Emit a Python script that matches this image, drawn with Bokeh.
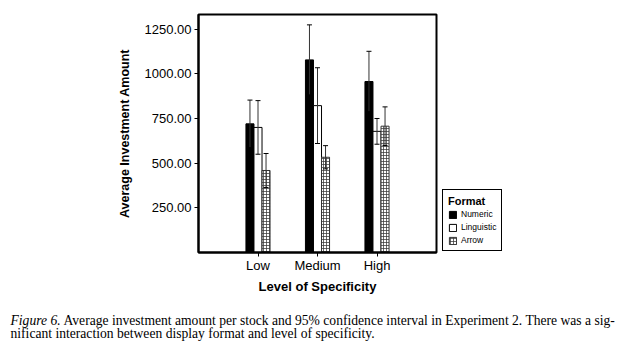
from bokeh.plotting import figure
from bokeh.models import (ColumnDataSource, FixedTicker, NumeralTickFormatter, BoxAnnotation,
                          Legend, LegendItem, Label, Range1d)
from bokeh.transform import dodge
from bokeh.embed import file_html
from bokeh.resources import INLINE

categories = ["Low", "Medium", "High"]
numeric = [720, 1078, 957]
numeric_ci = [133, 196, 169]
linguistic = [700, 822, 678]
linguistic_ci = [150, 212, 72]
arrow = [459, 533, 707]
arrow_ci = [95, 65, 108]
y_ticks = [250, 500, 750, 1000, 1250]
caption_italic = "Figure 6."
caption_line1 = "Average investment amount per stock and 95% confidence interval in Experiment 2. There was a sig-"
caption_line2 = "nificant interaction between display format and level of specificity."

positions = [i + 1 for i in range(len(categories))]
src = ColumnDataSource(dict(
    pos=positions,
    numeric=numeric, num_lo=[m - e for m, e in zip(numeric, numeric_ci)],
    num_hi=[m + e for m, e in zip(numeric, numeric_ci)],
    linguistic=linguistic, lin_lo=[m - e for m, e in zip(linguistic, linguistic_ci)],
    lin_hi=[m + e for m, e in zip(linguistic, linguistic_ci)],
    arrow=arrow, arr_lo=[m - e for m, e in zip(arrow, arrow_ci)],
    arr_hi=[m + e for m, e in zip(arrow, arrow_ci)],
))

FONT = "Liberation Sans"
SERIF = "Liberation Serif"

W, H = 631, 343
# layout: plot box spans x in [0, 4] (pixels 198..436) and y in [0, 1332] (pixels 252..14)
X_LO, X_HI = 0, 4
Y_LO, Y_HI = 0, 1332
BOX_L, BOX_R, BOX_B, BOX_T = 198, 436, 252, 14
sx = (BOX_R - BOX_L) / (X_HI - X_LO)
sy = (BOX_B - BOX_T) / (Y_HI - Y_LO)
x_range = Range1d(X_LO - BOX_L / sx, X_HI + (W - BOX_R) / sx)
y_range = Range1d(Y_LO - (H - BOX_B) / sy, Y_HI + BOX_T / sy)

p = figure(width=W, height=H, output_backend="svg", toolbar_location=None,
           x_range=x_range, y_range=y_range,
           min_border=0, min_border_left=0, min_border_right=0, min_border_top=0, min_border_bottom=0)
p.xgrid.visible = False
p.ygrid.visible = False
p.outline_line_color = None
p.background_fill_color = "white"
p.border_fill_color = "white"

off = 0.135
w = 0.135
cap = 0.042
r_num = p.vbar(x=dodge("pos", -off), top="numeric", width=w, source=src,
               fill_color="black", line_color="black", line_width=1)
r_lin = p.vbar(x=dodge("pos", 0), top="linguistic", width=w, source=src,
               fill_color="white", line_color="black", line_width=1)
r_arr = p.vbar(x=dodge("pos", off), top="arrow", width=w, source=src,
               fill_color="white", line_color="#333333", line_width=1,
               hatch_pattern="+", hatch_color="#3a3a3a", hatch_scale=3, hatch_weight=0.75)

for d, lo, hi in [(-off, "num_lo", "num_hi"), (0, "lin_lo", "lin_hi"), (off, "arr_lo", "arr_hi")]:
    p.segment(x0=dodge("pos", d), x1=dodge("pos", d), y0=lo, y1=hi, source=src,
              line_color="#333333", line_width=1)
    for end in (lo, hi):
        p.segment(x0=dodge("pos", d - cap), x1=dodge("pos", d + cap), y0=end, y1=end,
                  source=src, line_color="black", line_width=1)

# plot box (top and right borders)
p.add_layout(BoxAnnotation(left=X_LO, right=X_HI, bottom=Y_LO, top=Y_HI,
                           fill_alpha=0, line_color="black", line_alpha=1, line_width=2))

# axes, pinned to the plot box
p.yaxis.ticker = FixedTicker(ticks=y_ticks)
p.yaxis.formatter = NumeralTickFormatter(format="0.00")
p.yaxis.fixed_location = X_LO
p.yaxis.bounds = (Y_LO, Y_HI)
p.xaxis.ticker = FixedTicker(ticks=positions)
p.xaxis.major_label_overrides = {pp: c for pp, c in zip(positions, categories)}
p.xaxis.fixed_location = Y_LO
p.xaxis.bounds = (X_LO, X_HI)
for ax in (p.xaxis[0], p.yaxis[0]):
    ax.axis_line_width = 2
    ax.axis_line_color = "black"
    ax.major_tick_out = 4
    ax.major_tick_in = 0
    ax.minor_tick_line_color = None
    ax.major_label_text_font = FONT
    ax.major_label_text_font_size = "13px"
    ax.major_label_text_color = "black"
    ax.axis_label_text_font = FONT
    ax.axis_label_text_font_style = "bold"
    ax.axis_label_text_color = "black"
p.yaxis.major_label_standoff = 3
p.xaxis.major_label_standoff = 1
p.yaxis.axis_label = "Average Investment Amount"
p.yaxis.axis_label_text_font_size = "12.5px"
p.yaxis.axis_label_standoff = 10
p.xaxis.axis_label = "Level of Specificity"
p.xaxis.axis_label_text_font_size = "13px"
p.xaxis.axis_label_standoff = 3

legend = Legend(items=[LegendItem(label="Numeric", renderers=[r_num]),
                       LegendItem(label="Linguistic", renderers=[r_lin]),
                       LegendItem(label="Arrow", renderers=[r_arr])],
                location=(442, H - 251), title="Format",
                title_text_font=FONT, title_text_font_style="bold", title_text_font_size="11px",
                title_text_color="black", title_standoff=2,
                label_text_font=FONT, label_text_font_size="8.5px", label_text_color="black",
                glyph_width=9, glyph_height=9, label_height=10, label_standoff=4,
                spacing=3, padding=5, margin=0,
                border_line_color="black", border_line_width=1, border_line_alpha=1,
                background_fill_color="white", background_fill_alpha=1)
p.add_layout(legend)

# caption (screen units from the bottom-left of the canvas)
common = dict(x_units="screen", y_units="screen", text_font=SERIF, text_font_size="13.6px",
              text_baseline="alphabetic", text_color="black")
p.add_layout(Label(x=10, y=H - 320, text=caption_italic, text_font_style="italic", **common))
p.add_layout(Label(x=63, y=H - 320, text=caption_line1, **common))
p.add_layout(Label(x=10, y=H - 333, text=caption_line2, **common))

open("out.html", "w").write(file_html(p, INLINE))
